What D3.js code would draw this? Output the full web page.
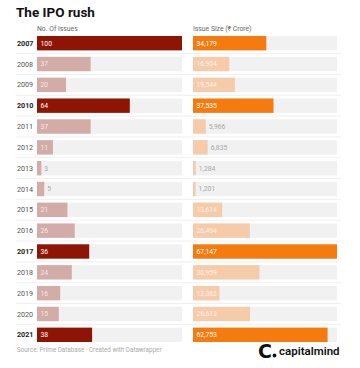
<!DOCTYPE html>
<html><head><meta charset="utf-8">
<script src="https://cdn.jsdelivr.net/npm/d3@7/dist/d3.min.js"></script>
<style>body{margin:0;background:#fff;}svg{display:block;font-family:Roboto,"Noto Sans",sans-serif;}</style>
</head><body>
<script>
const years = ["2007","2008","2009","2010","2011","2012","2013","2014","2015","2016","2017","2018","2019","2020","2021"];
const issues = [100,37,20,64,37,11,3,5,21,26,36,24,16,15,38];
const issueSize = [34179,16904,19544,37535,5966,6835,1284,1201,13614,26494,67147,30959,12362,26613,62753];
const highlight = ["2007","2010","2017","2021"];
const headers = ["No. Of Issues","Issue Size (₹ Crore)"];

const W=360,H=368;
const svg=d3.select("body").append("svg").attr("width",W).attr("height",H);

svg.append("text").attr("x",16).attr("y",17).attr("font-size",13.5).attr("font-weight",700).attr("fill","#111").text("The IPO rush");

const y=d3.scaleBand().domain(years).range([36,36+20.4*15]).paddingInner(0.31).paddingOuter(0);
const xL=d3.scaleLinear().domain([0,100]).range([37,182]);
const xR=d3.scaleLinear().domain([0,d3.max(issueSize)]).range([193,337]);

svg.append("text").attr("x",37).attr("y",31).attr("font-size",6.8).attr("fill","#666").text(headers[0]);
svg.append("text").attr("x",193).attr("y",31).attr("font-size",6.8).attr("fill","#666").text(headers[1]);

// separators
svg.selectAll("line.sep").data(years.slice(1)).join("line")
  .attr("x1",16).attr("x2",341)
  .attr("y1",d=>y(d)-y.step()*y.paddingInner()/2).attr("y2",d=>y(d)-y.step()*y.paddingInner()/2)
  .attr("stroke","#ebebeb").attr("stroke-width",0.8);

const rows=years.map((yr,i)=>({yr,a:issues[i],b:issueSize[i],hi:highlight.includes(yr)}));

// year labels
svg.selectAll("text.yr").data(rows).join("text")
  .attr("x",17).attr("y",d=>y(d.yr)+y.bandwidth()/2).attr("dy","0.35em")
  .attr("font-size",7.2).attr("font-weight",d=>d.hi?700:400).attr("fill",d=>d.hi?"#222":"#555")
  .text(d=>d.yr);

function drawCol(x,key,hiC,loC,fmt,threshold){
  const [x0,x1]=x.range();
  svg.append("g").selectAll("rect").data(rows).join("rect")
    .attr("x",x0).attr("y",d=>y(d.yr)).attr("width",x1-x0).attr("height",y.bandwidth()).attr("fill","#f1f1f1");
  svg.append("g").selectAll("rect").data(rows).join("rect")
    .attr("x",x0).attr("y",d=>y(d.yr)).attr("width",d=>x(d[key])-x0).attr("height",y.bandwidth())
    .attr("fill",d=>d.hi?hiC:loC);
  svg.append("g").selectAll("text").data(rows).join("text")
    .attr("x",d=>(x(d[key])-x0)<threshold? x(d[key])+3 : x0+3.5)
    .attr("y",d=>y(d.yr)+y.bandwidth()/2).attr("dy","0.35em")
    .attr("font-size",6.8)
    .attr("fill",d=>(x(d[key])-x0)<threshold?"#a8a8a8":"#fff")
    .attr("fill-opacity",d=>(x(d[key])-x0)<threshold?1:(d.hi?1:0.75))
    .text(d=>fmt(d[key]));
}
drawCol(xL,"a","#8e1503","#d4aca7",d3.format("d"),12);
drawCol(xR,"b","#f57b0f","#f6cba9",d3.format(",d"),20);

svg.append("text").attr("x",17).attr("y",352).attr("font-size",6.3).attr("fill","#aaa")
  .text("Source: Prime Database · Created with Datawrapper");

// logo
const lg=svg.append("g");
lg.append("text").attr("x",258).attr("y",358).attr("font-size",19).attr("font-weight",900).attr("fill","#111").attr("font-family","'DejaVu Sans',sans-serif").text("C");
lg.append("circle").attr("cx",274.5).attr("cy",355.5).attr("r",1.9).attr("fill","#111");
lg.append("text").attr("x",279).attr("y",355).attr("font-size",11.5).attr("font-weight",600).attr("fill","#111").text("capitalmind");
</script>
</body></html>
